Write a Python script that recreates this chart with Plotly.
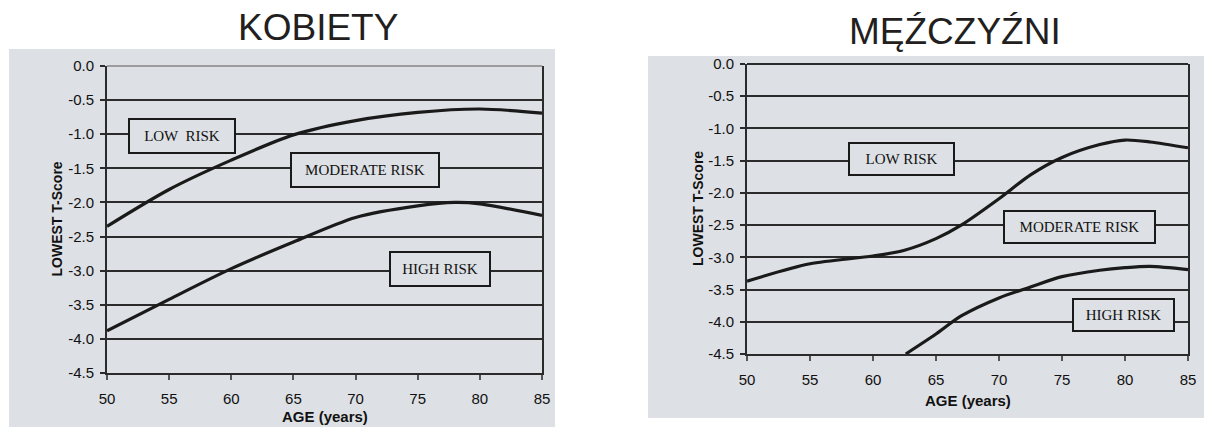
import plotly.graph_objects as go

# page body has an 8px margin, so the figure is drawn 8px in from the top-left
OFF = 8
W, H = 1212 - OFF, 427 - OFF

# ---------------- data ----------------
age_ticks = [50, 55, 60, 65, 70, 75, 80, 85]
t_ticks = [0.0, -0.5, -1.0, -1.5, -2.0, -2.5, -3.0, -3.5, -4.0, -4.5]
t_tick_labels = ["0.0", "-0.5", "-1.0", "-1.5", "-2.0", "-2.5", "-3.0", "-3.5", "-4.0", "-4.5"]

# KOBIETY (women)
w_upper_age = [50, 55, 60, 65, 70, 75, 80, 85]
w_upper_t = [-2.35, -1.81, -1.38, -1.01, -0.80, -0.68, -0.63, -0.69]
w_lower_age = [50, 55, 60, 65, 70, 75, 78, 80, 85]
w_lower_t = [-3.88, -3.42, -2.97, -2.58, -2.22, -2.05, -2.00, -2.02, -2.19]

# MĘŻCZYŹNI (men)
m_upper_age = [50, 55, 60, 62.5, 65, 67, 70, 72.5, 75, 78, 80, 82, 85]
m_upper_t = [-3.37, -3.10, -2.98, -2.89, -2.71, -2.50, -2.09, -1.72, -1.45, -1.25, -1.18, -1.21, -1.30]
m_lower_age = [62.6, 65, 67, 70, 72.5, 75, 78, 80, 82, 85]
m_lower_t = [-4.50, -4.19, -3.91, -3.63, -3.46, -3.30, -3.20, -3.16, -3.14, -3.19]

risk_labels_w = ["LOW  RISK", "MODERATE RISK", "HIGH RISK"]
risk_pos_w_age = [56.05, 70.75, 76.8]
risk_pos_w_t = [-1.02, -1.53, -2.97]
risk_labels_m = ["LOW RISK", "MODERATE RISK", "HIGH RISK"]
risk_pos_m_age = [62.25, 76.37, 79.9]
risk_pos_m_t = [-1.47, -2.53, -3.90]

titles = ["KOBIETY", "MĘŹCZYŹNI"]

# ---------------- layout helpers (screen pixels -> paper) ----------------
def px(x):
    return (x - OFF) / W

def py(y):
    return 1 - (y - OFF) / H

PANEL = "#dde0e4"
INK = "#1a1a1a"
GRID = "#2b2b2b"
SANS = "Liberation Sans, Arial, sans-serif"
SERIF = "Liberation Serif, Times New Roman, serif"

# plot areas (screen pixels)
L = dict(x0=107, x1=542, y0=66, y1=373)
R = dict(x0=747, x1=1188, y0=64, y1=354)

fig = go.Figure()

line_style = dict(color=INK, width=3.2, shape="spline", smoothing=0.8)
fig.add_trace(go.Scatter(x=w_upper_age, y=w_upper_t, mode="lines", line=line_style,
                         xaxis="x", yaxis="y", showlegend=False, hoverinfo="skip"))
fig.add_trace(go.Scatter(x=w_lower_age, y=w_lower_t, mode="lines", line=line_style,
                         xaxis="x", yaxis="y", showlegend=False, hoverinfo="skip"))
fig.add_trace(go.Scatter(x=m_upper_age, y=m_upper_t, mode="lines", line=line_style,
                         xaxis="x2", yaxis="y2", showlegend=False, hoverinfo="skip"))
fig.add_trace(go.Scatter(x=m_lower_age, y=m_lower_t, mode="lines", line=line_style,
                         xaxis="x2", yaxis="y2", showlegend=False, hoverinfo="skip"))

tickfont = dict(family=SANS, size=15, color="#111111")

def xaxis(d, anchor):
    return dict(domain=[px(d["x0"]), px(d["x1"])], anchor=anchor, range=[50, 85],
                tickvals=age_ticks, ticktext=[str(a) for a in age_ticks],
                showgrid=False, zeroline=False, showline=True, linecolor=GRID, linewidth=2,
                ticks="outside", ticklen=5, tickwidth=1.5, tickcolor="#555555",
                tickfont=tickfont, ticklabelstandoff=6, automargin=False, fixedrange=True)

def yaxis(d, anchor, zerocolor):
    return dict(domain=[py(d["y1"]), py(d["y0"])], anchor=anchor, range=[-4.5, 0.0],
                tickvals=t_ticks, ticktext=t_tick_labels,
                showgrid=True, gridcolor=GRID, gridwidth=2,
                zeroline=True, zerolinecolor=zerocolor, zerolinewidth=2,
                showline=True, mirror=True, linecolor=GRID, linewidth=2,
                ticks="outside", ticklen=5, tickwidth=2, tickcolor=GRID,
                tickfont=tickfont, ticklabelstandoff=3, automargin=False, fixedrange=True)

annotations = []
# titles
annotations.append(dict(text=titles[0], x=px(318), y=py(28), xref="paper", yref="paper",
                        showarrow=False, font=dict(family=SANS, size=37, color="#231f20"),
                        xanchor="center", yanchor="middle"))
annotations.append(dict(text=titles[1], x=px(955), y=py(31), xref="paper", yref="paper",
                        showarrow=False, font=dict(family=SANS, size=37, color="#231f20"),
                        xanchor="center", yanchor="middle"))
# axis titles
for cx, cy in [((L["x0"] + L["x1"]) / 2, 416), ((R["x0"] + R["x1"]) / 2, 400)]:
    annotations.append(dict(text="<b>AGE (years)</b>", x=px(cx), y=py(cy), xref="paper", yref="paper",
                            showarrow=False, font=dict(family=SANS, size=15, color="#111111"),
                            xanchor="center", yanchor="middle"))
for cx, cy in [(56, (L["y0"] + L["y1"]) / 2), (698, (R["y0"] + R["y1"]) / 2)]:
    annotations.append(dict(text="<b>LOWEST T-Score</b>", x=px(cx), y=py(cy), xref="paper", yref="paper",
                            showarrow=False, textangle=-90, font=dict(family=SANS, size=14, color="#111111"),
                            xanchor="center", yanchor="middle"))

# risk boxes
box_w_sizes = [(104, 32), (146, 32), (98, 32)]
box_m_sizes = [(103, 30), (149, 30), (99, 30)]
for lab, ax_, ay_, (bw, bh) in zip(risk_labels_w, risk_pos_w_age, risk_pos_w_t, box_w_sizes):
    annotations.append(dict(text=lab, x=ax_, y=ay_, xref="x", yref="y", showarrow=False,
                            font=dict(family=SERIF, size=15, color="#111111"),
                            bgcolor=PANEL, bordercolor=INK, borderwidth=2, borderpad=0,
                            width=bw, height=bh, align="center", valign="middle"))
for lab, ax_, ay_, (bw, bh) in zip(risk_labels_m, risk_pos_m_age, risk_pos_m_t, box_m_sizes):
    annotations.append(dict(text=lab, x=ax_, y=ay_, xref="x2", yref="y2", showarrow=False,
                            font=dict(family=SERIF, size=15, color="#111111"),
                            bgcolor=PANEL, bordercolor=INK, borderwidth=2, borderpad=0,
                            width=bw, height=bh, align="center", valign="middle"))

shapes = [
    dict(type="rect", xref="paper", yref="paper", x0=px(9), x1=px(555), y0=py(427), y1=py(49),
         fillcolor=PANEL, line=dict(width=0), layer="below"),
    dict(type="rect", xref="paper", yref="paper", x0=px(648), x1=px(1212), y0=py(418), y1=py(56),
         fillcolor=PANEL, line=dict(width=0), layer="below"),
]

fig.update_layout(
    width=W, height=H,
    margin=dict(l=0, r=0, t=0, b=0),
    paper_bgcolor="white",
    plot_bgcolor="rgba(0,0,0,0)",
    xaxis=xaxis(L, "y"),
    yaxis=yaxis(L, "x", "#9c9c9c"),
    xaxis2=xaxis(R, "y2"),
    yaxis2=yaxis(R, "x2", GRID),
    annotations=annotations,
    shapes=shapes,
    showlegend=False,
)

fig.write_html("out.html")
